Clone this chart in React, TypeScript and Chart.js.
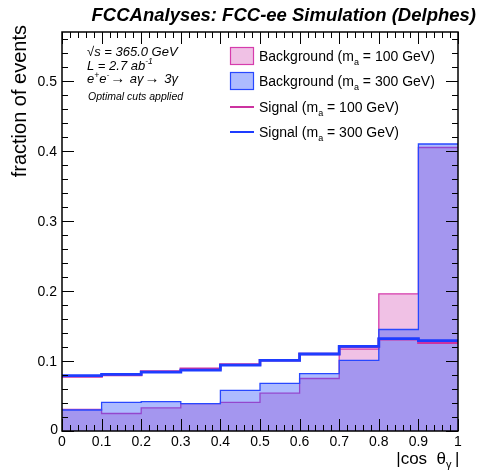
import React, { useEffect, useRef } from "react";
import { Chart, registerables } from "chart.js";

Chart.register(...registerables);

const binEdges = [0, 0.1, 0.2, 0.3, 0.4, 0.5, 0.6, 0.7, 0.8, 0.9, 1.0];
const bg100 = [0.031, 0.025, 0.033, 0.039, 0.041, 0.054, 0.075, 0.117, 0.196, 0.405];
const bg300 = [0.030, 0.041, 0.042, 0.039, 0.058, 0.068, 0.082, 0.101, 0.145, 0.410];
const sig100 = [0.078, 0.080, 0.085, 0.089, 0.095, 0.101, 0.110, 0.120, 0.131, 0.126];
const sig300 = [0.079, 0.081, 0.084, 0.087, 0.094, 0.101, 0.110, 0.121, 0.132, 0.129];
const xTickLabels = ["0", "0.1", "0.2", "0.3", "0.4", "0.5", "0.6", "0.7", "0.8", "0.9", "1"];
const yTickLabels = ["0", "0.1", "0.2", "0.3", "0.4", "0.5"];

const FONT = "'Liberation Sans', Arial, Helvetica, sans-serif";

function toSteps(vals: number[]) {
  const pts = vals.map((v, i) => ({ x: binEdges[i], y: v }));
  pts.push({ x: binEdges[binEdges.length - 1], y: vals[vals.length - 1] });
  return pts;
}

const C_PINK_LINE = "rgb(214,60,172)";
const C_PINK_FILL = "rgba(204,51,170,0.30)";
const C_BLUE_LINE = "rgb(40,72,255)";
const C_BLUE_FILL = "rgba(51,85,255,0.40)";
const C_SIG100 = "rgb(204,50,160)";
const C_SIG300 = "rgb(30,60,255)";

const overlay = {
  id: "overlay",
  afterDraw(chart: any) {
    const ctx = chart.ctx as CanvasRenderingContext2D;
    const xs = chart.scales.x;
    const ys = chart.scales.y;
    const a = chart.chartArea;
    ctx.save();
    ctx.strokeStyle = "#000";
    ctx.fillStyle = "#000";
    // frame
    ctx.lineWidth = 1.5;
    ctx.strokeRect(a.left, a.top, a.right - a.left, a.bottom - a.top);
    // x ticks
    ctx.lineWidth = 1;
    ctx.beginPath();
    for (let i = 0; i <= 50; i++) {
      const v = i * 0.02;
      const px = Math.round(xs.getPixelForValue(v)) + 0.5;
      const len = i % 5 === 0 ? 12 : 6;
      ctx.moveTo(px, a.bottom);
      ctx.lineTo(px, a.bottom - len);
      ctx.moveTo(px, a.top);
      ctx.lineTo(px, a.top + len);
    }
    // y ticks
    for (let i = 0; i <= 28; i++) {
      const v = i * 0.02;
      if (v > ys.max) break;
      const py = Math.round(ys.getPixelForValue(v)) + 0.5;
      const len = i % 5 === 0 ? 12 : 6;
      ctx.moveTo(a.left, py);
      ctx.lineTo(a.left + len, py);
      ctx.moveTo(a.right, py);
      ctx.lineTo(a.right - len, py);
    }
    ctx.stroke();
    // tick labels
    ctx.font = `14px ${FONT}`;
    ctx.textAlign = "center";
    ctx.textBaseline = "alphabetic";
    xTickLabels.forEach((t, i) => {
      ctx.fillText(t, xs.getPixelForValue(i * 0.1), a.bottom + 15);
    });
    ctx.textAlign = "right";
    yTickLabels.forEach((t, i) => {
      const py = ys.getPixelForValue(i * 0.1);
      if (i === 0) ctx.fillText(t, a.left - 4, py + 3);
      else ctx.fillText(t, a.left - 5, py + 5);
    });
    // axis titles
    ctx.font = `17px ${FONT}`;
    ctx.textAlign = "right";
    ctx.fillText("|cos  \u03B8", a.right - 12, 464);
    ctx.font = `11px ${FONT}`;
    ctx.textAlign = "left";
    ctx.fillText("\u03B3", a.right - 12, 468);
    ctx.font = `17px ${FONT}`;
    ctx.fillText("|", a.right - 3, 464);
    ctx.save();
    ctx.font = `20px ${FONT}`;
    ctx.translate(26, 25);
    ctx.rotate(-Math.PI / 2);
    ctx.textAlign = "right";
    ctx.fillText("fraction of events", 0, 0);
    ctx.restore();
    // title
    ctx.font = `bold italic 18.5px ${FONT}`;
    ctx.textAlign = "right";
    ctx.fillText("FCCAnalyses: FCC-ee Simulation (Delphes)", 476, 21);
    // info text
    ctx.textAlign = "left";
    ctx.font = `italic 13px ${FONT}`;
    ctx.fillText("\u221As = 365.0 GeV", 87, 56);
    ctx.fillText("L = 2.7 ab", 87, 70);
    let w = ctx.measureText("L = 2.7 ab").width;
    ctx.font = `italic 8.5px ${FONT}`;
    ctx.fillText("-1", 87 + w, 64);
    let x = 87;
    ctx.font = `italic 13px ${FONT}`;
    ctx.fillText("e", x, 83);
    x += ctx.measureText("e").width;
    ctx.font = `italic 8.5px ${FONT}`;
    ctx.fillText("+", x, 78);
    x += ctx.measureText("+").width;
    ctx.font = `italic 13px ${FONT}`;
    ctx.fillText("e", x, 83);
    x += ctx.measureText("e").width;
    ctx.font = `italic 8.5px ${FONT}`;
    ctx.fillText("-", x, 78);
    x += ctx.measureText("-").width + 1;
    const segs = ["\u2192", " a\u03B3", "\u2192", " 3\u03B3"];
    segs.forEach((s) => {
      ctx.font = s === "\u2192" ? `15px ${FONT}` : `italic 13px ${FONT}`;
      ctx.fillText(s, x, 83);
      x += ctx.measureText(s).width + 1;
    });
    ctx.font = `italic 10.5px ${FONT}`;
    ctx.fillText("Optimal cuts applied", 88, 100);
    // legend
    const lx = 230, lw = 24, tx = 259;
    const rows = [
      { y: 56, label: "Background (m", rest: " = 100 GeV)", kind: "box", fill: C_PINK_FILL, line: C_PINK_LINE },
      { y: 81, label: "Background (m", rest: " = 300 GeV)", kind: "box", fill: C_BLUE_FILL, line: C_BLUE_LINE },
      { y: 107, label: "Signal (m", rest: " = 100 GeV)", kind: "line", fill: "", line: C_SIG100 },
      { y: 132, label: "Signal (m", rest: " = 300 GeV)", kind: "line", fill: "", line: C_SIG300 },
    ];
    rows.forEach((r) => {
      if (r.kind === "box") {
        ctx.fillStyle = r.fill;
        ctx.fillRect(lx, r.y - 9, lw, 18);
        ctx.strokeStyle = r.line;
        ctx.lineWidth = 1.2;
        ctx.strokeRect(lx + 0.5, r.y - 9 + 0.5, lw - 1, 17);
      } else {
        ctx.strokeStyle = r.line;
        ctx.lineWidth = 2;
        ctx.beginPath();
        ctx.moveTo(lx, r.y);
        ctx.lineTo(lx + lw, r.y);
        ctx.stroke();
      }
      ctx.fillStyle = "#000";
      ctx.font = `14px ${FONT}`;
      ctx.fillText(r.label, tx, r.y + 5);
      let px = tx + ctx.measureText(r.label).width;
      ctx.font = `9px ${FONT}`;
      ctx.fillText("a", px, r.y + 9);
      px += ctx.measureText("a").width;
      ctx.font = `14px ${FONT}`;
      ctx.fillText(r.rest, px, r.y + 5);
    });
    ctx.restore();
  },
};

export default function App() {
  const ref = useRef<HTMLCanvasElement | null>(null);
  useEffect(() => {
    document.body.style.margin = "0";
    const canvas = ref.current!;
    const chart = new Chart(canvas, {
      type: "line",
      data: {
        datasets: [
          {
            label: "Background (ma = 100 GeV)",
            data: toSteps(bg100),
            stepped: "before",
            borderColor: C_PINK_LINE,
            backgroundColor: C_PINK_FILL,
            borderWidth: 1.3,
            fill: "origin",
            pointRadius: 0,
            order: 4,
          },
          {
            label: "Background (ma = 300 GeV)",
            data: toSteps(bg300),
            stepped: "before",
            borderColor: C_BLUE_LINE,
            backgroundColor: C_BLUE_FILL,
            borderWidth: 1.3,
            fill: "origin",
            pointRadius: 0,
            order: 3,
          },
          {
            label: "Signal (ma = 100 GeV)",
            data: toSteps(sig100),
            stepped: "before",
            borderColor: C_SIG100,
            borderWidth: 2.5,
            fill: false,
            pointRadius: 0,
            order: 2,
          },
          {
            label: "Signal (ma = 300 GeV)",
            data: toSteps(sig300),
            stepped: "before",
            borderColor: C_SIG300,
            borderWidth: 2.8,
            fill: false,
            pointRadius: 0,
            order: 1,
          },
        ],
      } as any,
      options: {
        responsive: false,
        animation: false,
        layout: { padding: { left: 62, right: 21, top: 32, bottom: 41 } },
        plugins: { legend: { display: false }, title: { display: false }, tooltip: { enabled: false } },
        scales: {
          x: { type: "linear", min: 0, max: 1, display: false },
          y: { type: "linear", min: 0, max: 0.57, display: false },
        },
      } as any,
      plugins: [overlay],
    });
    return () => chart.destroy();
  }, []);
  return (
    <div style={{ width: 479, height: 472, background: "#fff" }}>
      <canvas ref={ref} width={479} height={472} />
    </div>
  );
}
